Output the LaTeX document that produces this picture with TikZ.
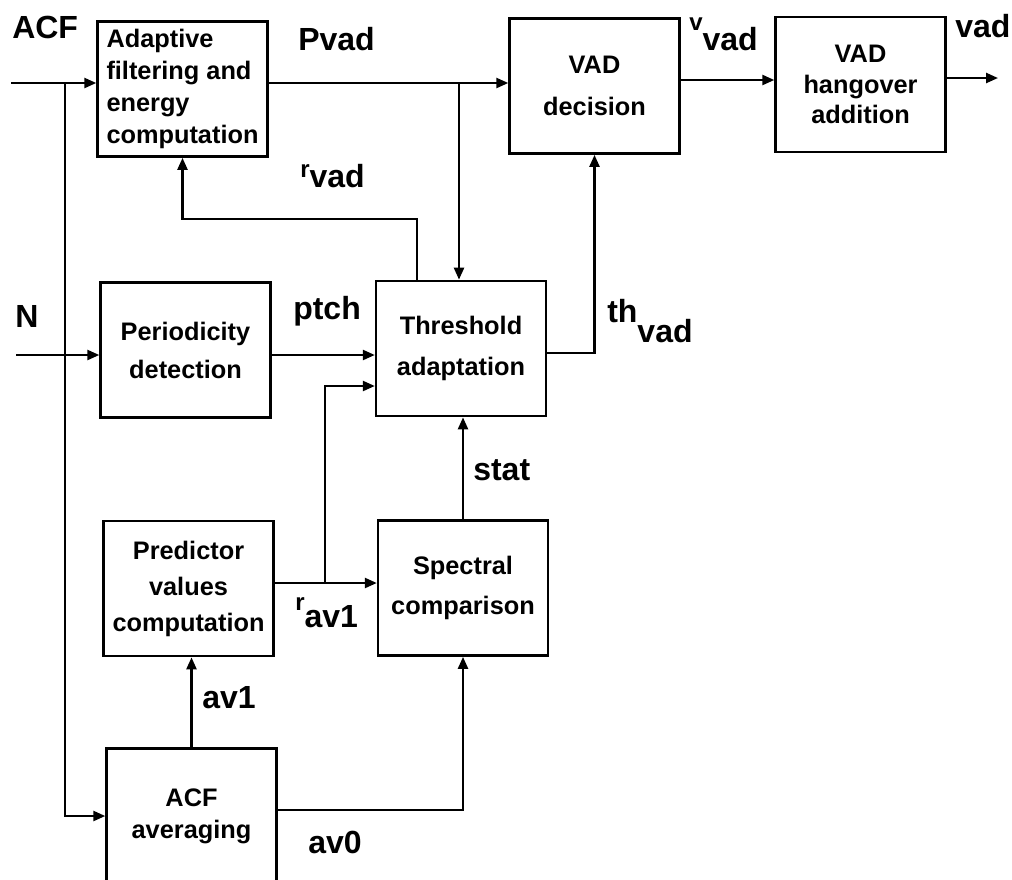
\documentclass[tikz,border=0pt]{standalone}
\usepackage{fontspec}
\setmainfont{Liberation Sans}
\usetikzlibrary{positioning,arrows.meta}

\newcommand{\lowsub}[3]{#1\raisebox{-#3}{#2}}
\newcommand{\smallr}[1]{{\fontsize{18}{18}\selectfont #1}}

\tikzset{
  block/.style={draw, line width=1.8pt, minimum width=127.5pt, minimum height=101.5pt,
    inner sep=0pt, align=center, font=\bfseries\fontsize{19}{#1}\selectfont},
  block/.default=27,
  sig/.style={anchor=base west, inner sep=0pt, font=\bfseries\fontsize{24}{26}\selectfont},
  conn/.style={line width=1.8pt},
}

\begin{document}
\begin{tikzpicture}[x=0.75pt, y=-0.75pt, >={Triangle[length=9pt,width=7.5pt]}]
  \useasboundingbox (0,0) rectangle (1012,879);
  \clip (0,0) rectangle (1012,879);

  % blocks
  \node[block=24, align=left] (adapt) at (182.5,89) {Adaptive\\filtering and\\energy\\computation};
  \node[block=31.5] (decide) at (594.5,86) {VAD\\decision};
  \node[block=23] (hang) at (860.5,84.5) {VAD\\hangover\\addition};
  \node[block=28.5] (period) at (185.5,350) {Periodicity\\detection};
  \node[block=31] (thresh) at (461,348.5) {Threshold\\adaptation};
  \node[block=27] (predict) at (188.5,588.5) {Predictor\\values\\computation};
  \node[block=30] (spectral) at (463,588) {Spectral\\comparison};
  \node[block=24] (average) at (191.5,816) {ACF\\averaging};

  % signal names
  \node[sig] (lacf) at (12,38) {ACF};
  \node[sig] (lpvad) at (298,50) {Pvad};
  \node[sig] (lvvad) at (689,30) {\lowsub{\smallr{v}}{vad}{15pt}};
  \node[sig] (lvad) at (955,37) {vad};
  \node[sig] (lrvad) at (300,177) {\lowsub{\smallr{r}}{vad}{8pt}};
  \node[sig] (ln) at (15,327) {N};
  \node[sig] (lptch) at (293,319) {ptch};
  \node[sig] (lthvad) at (607,322) {\lowsub{th}{vad}{15pt}};
  \node[sig] (lstat) at (473,480) {stat};
  \node[sig] (lrav) at (295,610) {\lowsub{\smallr{r}}{av1}{12.75pt}};
  \node[sig] (lavone) at (202,708) {av1};
  \node[sig] (lavzero) at (308,853) {av0};

  % connection points
  \coordinate (acfin) at (11,83);
  \coordinate (acftap) at (65,83);
  \coordinate (pvtap) at (459,83);
  \coordinate (rvtop) at (417,219);
  \coordinate (vvline) at (679,80);
  \coordinate (vadout) at (998,78);
  \coordinate (thout) at (597,353);
  \coordinate (nin) at (16,355);
  \coordinate (ravtap) at (325,583);
  \coordinate (ravtop) at (325,386);
  \coordinate (avzline) at (465,810);

  % connectors
  \draw[conn,->] (acfin) -- (acfin -| adapt.west);
  \draw[conn,->] (acftap) |- (average.west);
  \draw[conn,->] (acfin -| adapt.east) -- (acfin -| decide.west);
  \draw[conn,->] (pvtap) -- (pvtap |- thresh.north);
  \draw[conn,->] (rvtop |- thresh.north) -- (rvtop) -| (adapt.south);
  \draw[conn,->] (thout -| thresh.east) -| (decide.south);
  \draw[conn,->] (vvline -| decide.east) -- (vvline -| hang.west);
  \draw[conn,->] (hang.east |- vadout) -- (vadout);
  \draw[conn,->] (nin) -- (nin -| period.west);
  \draw[conn,->] (nin -| period.east) -- (nin -| thresh.west);
  \draw[conn,->] (ravtap -| predict.east) -- (ravtap -| spectral.west);
  \draw[conn,->] (ravtap) -- (ravtop) -- (ravtop -| thresh.west);
  \draw[conn,->] (average.north) -- (average.north |- predict.south);
  \draw[conn,->] (avzline -| average.east) -| (spectral.south);
  \draw[conn,->] (spectral.north) -- (spectral.north |- thresh.south);
\end{tikzpicture}
\end{document}
